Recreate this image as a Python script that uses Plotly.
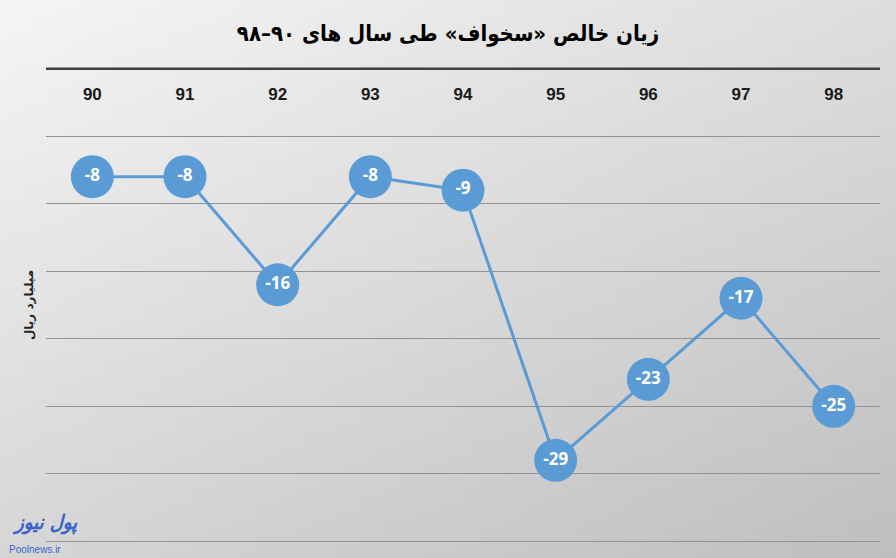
import base64
import struct
import zlib

import plotly.graph_objects as go

# data (billion rials)
years = ["90", "91", "92", "93", "94", "95", "96", "97", "98"]
net_loss = [-8, -8, -16, -8, -9, -29, -23, -17, -25]
labels = [str(v) for v in net_loss]

title_text = "<b>زیان خالص «سخواف» طی سال های ۹۰–۹۸</b>"
y_title = "<b>میلیارد ریال</b>"

BLUE = "#5B9BD5"


def gradient_png(w=90, h=56):
    # soft diagonal grey gradient like the source background
    rows = b""
    for j in range(h):
        rows += b"\x00"
        for i in range(w):
            c = int(248 - 34 * j / (h - 1) - 26 * i / (w - 1))
            rows += bytes((c, c, c))

    def chunk(tag, data):
        body = tag + data
        return struct.pack(">I", len(data)) + body + struct.pack(">I", zlib.crc32(body) & 0xFFFFFFFF)

    png = b"\x89PNG\r\n\x1a\n"
    png += chunk(b"IHDR", struct.pack(">IIBBBBB", w, h, 8, 2, 0, 0, 0))
    png += chunk(b"IDAT", zlib.compress(rows, 9))
    png += chunk(b"IEND", b"")
    return "data:image/png;base64," + base64.b64encode(png).decode()


fig = go.Figure()
fig.add_trace(go.Scatter(
    x=years, y=net_loss, text=labels,
    mode="lines+markers+text",
    line=dict(color=BLUE, width=3),
    marker=dict(size=43, color=BLUE, line=dict(width=0)),
    textposition="middle center",
    textfont=dict(family="Open Sans, Lato, sans-serif", size=17, color="white", weight="bold"),
    cliponaxis=False,
    hoverinfo="x+y",
))

fig.update_layout(
    width=896, height=558,
    margin=dict(l=46, r=16, t=66, b=14),
    paper_bgcolor="#e2e2e2",
    plot_bgcolor="rgba(0,0,0,0)",
    showlegend=False,
    title=dict(text=title_text, x=0.5, xanchor="center", y=0.94, yanchor="middle",
               font=dict(family="DejaVu Sans Condensed, DejaVu Sans", size=22, color="black")),
    images=[dict(source=gradient_png(), xref="paper", yref="paper", x=-0.1, y=1.2,
                 sizex=1.2, sizey=1.3, sizing="stretch", layer="below",
                 xanchor="left", yanchor="top")],
    # dark axis line at zero along the top
    shapes=[dict(type="line", xref="paper", x0=0, x1=1, yref="y", y0=0, y1=0,
                 line=dict(color="#404040", width=2.5), layer="below")],
)

fig.update_xaxes(
    type="category", side="top", range=[-0.5, 8.5], automargin=False,
    showgrid=False, showline=False, zeroline=False,
    ticks="", ticklabelposition="inside", ticklabelstandoff=19,
    tickfont=dict(family="Liberation Sans Narrow, Liberation Sans, Arial", size=17,
                  color="#1a1a1a", weight="bold"),
)
fig.update_yaxes(
    range=[-35.2, 0.2], dtick=5, showticklabels=False, automargin=False,
    showgrid=True, gridcolor="#939393", gridwidth=1.3,
    zeroline=False, showline=False,
    title=dict(text=y_title, standoff=8,
               font=dict(family="DejaVu Sans, Noto Sans", size=12, color="#222")),
)

# site watermark, bottom-left
fig.add_annotation(text="<i><b>پول نیوز</b></i>", xref="paper", yref="paper",
                   x=-0.043, y=0.045, xanchor="left", yanchor="middle", showarrow=False,
                   font=dict(family="DejaVu Sans Condensed, DejaVu Sans", size=20, color="#3a63c9"))
fig.add_annotation(text="Poolnews.ir", xref="paper", yref="paper",
                   x=-0.047, y=-0.011, xanchor="left", yanchor="middle", showarrow=False,
                   font=dict(family="Liberation Sans", size=10, color="#3a63c9"))

fig.write_html("out.html", config={"displayModeBar": False},
               post_script="document.body.style.margin='0';")
